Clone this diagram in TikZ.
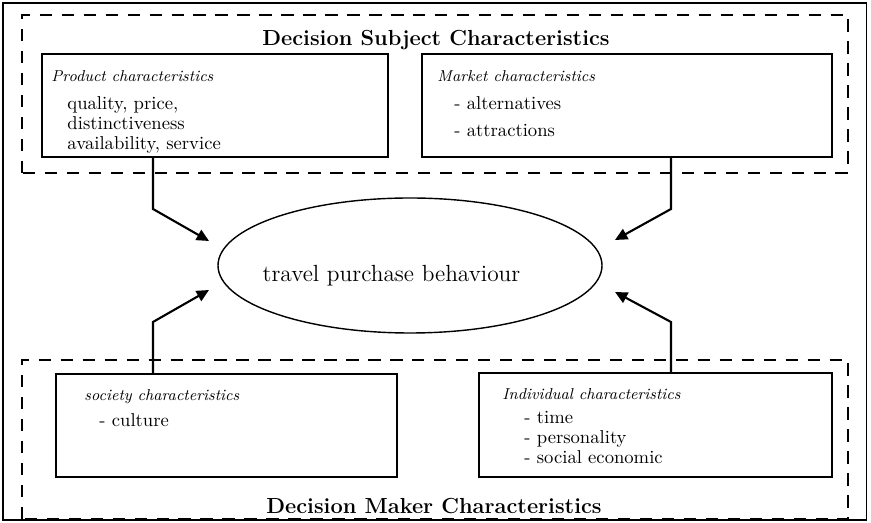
\documentclass[tikz,border=0pt]{standalone}
\usepackage{tikz}
\usetikzlibrary{arrows.meta,positioning,shapes.geometric}
\newcommand{\hdtext}[1]{{\fontsize{9}{11.4}\selectfont\itshape #1}}

\begin{document}
\begin{tikzpicture}[
    box/.style={draw, line width=1pt, inner sep=0pt, minimum height=2.06cm},
    grp/.style={draw, line width=1.2pt, dash pattern=on 7pt off 5.5pt},
    txt/.style={inner sep=0pt, align=left, font=\fontsize{10.6}{11.4}\selectfont},
    ttl/.style={inner sep=0pt, font=\fontsize{12.4}{14}\selectfont\bfseries},
    arr/.style={-{Triangle[length=7pt,width=6.5pt]}, line width=1.2pt}
]
\useasboundingbox (0,0) rectangle (17.42,10.46);

%% ---- outer frame and groups ----
\draw[line width=0.6pt] (0.06,0.06) rectangle (17.33,10.40);
\draw[grp] (0.44,7.00) rectangle (16.96,10.16);
\draw[grp] (0.44,0.08) rectangle (16.96,3.26);

\node[ttl, anchor=base] (subj) at (8.72,9.54) {Decision Subject Characteristics};
\node[ttl, anchor=base] (maker) at (8.68,0.18) {Decision Maker Characteristics};

%% ---- subject side (top row) ----
\node[box, minimum width=6.92cm] (prod) at (4.30,8.35) {};
\node[box, minimum width=8.20cm] (mkt)  at (12.54,8.35) {};
\node[txt, below right=0.34cm and 0.2cm of prod.north west] (prodtxt)
    {\hdtext{Product characteristics}\\[4.5pt]
     \hspace*{0.32cm}quality, price,\\
     \hspace*{0.32cm}distinctiveness\\
     \hspace*{0.32cm}availability, service};
\node[txt, below right=0.34cm and 0.32cm of mkt.north west] (mkttxt)
    {\hdtext{Market characteristics}\\[4.5pt]
     \hspace*{0.34cm}- alternatives\\[4pt]
     \hspace*{0.34cm}- attractions};

%% ---- maker side (bottom row) ----
\node[box, minimum width=6.82cm] (soc) at (4.53,1.95) {};
\node[box, minimum width=7.06cm, minimum height=2.08cm] (ind) at (13.11,1.96) {};
\node[txt, below right=0.32cm and 0.58cm of soc.north west] (soctxt)
    {\hdtext{society characteristics}\\[3.4pt]
     \hspace*{0.30cm}- culture};
\node[txt, below right=0.32cm and 0.48cm of ind.north west] (indtxt)
    {\hdtext{Individual characteristics}\\[2.3pt]
     \hspace*{0.44cm}- time\\
     \hspace*{0.44cm}- personality\\
     \hspace*{0.44cm}- social economic};

%% ---- centre ----
\node[draw, ellipse, line width=0.8pt, inner sep=0pt,
      minimum width=7.68cm, minimum height=2.70cm] (tpb) at (8.20,5.15) {};
\node[inner sep=0pt, anchor=base, font=\fontsize{13.3}{15}\selectfont]
    (tpbtxt) at (7.83,4.82) {travel purchase behaviour};

%% ---- arrows ----
\coordinate (bendPS) at (3.06,6.28);   \coordinate (inPS) at (4.18,5.64);
\coordinate (bendMS) at (13.42,6.28);  \coordinate (inMS) at (12.30,5.66);
\coordinate (bendSC) at (3.06,4.02);   \coordinate (inSC) at (4.18,4.66);
\coordinate (bendIC) at (13.42,4.02);  \coordinate (inIC) at (12.30,4.62);

\draw[arr] (prod.south -| bendPS) -- (bendPS) -- (inPS);
\draw[arr] (mkt.south -| bendMS)  -- (bendMS) -- (inMS);
\draw[arr] (soc.north -| bendSC)  -- (bendSC) -- (inSC);
\draw[arr] (ind.north -| bendIC)  -- (bendIC) -- (inIC);

\end{tikzpicture}
\end{document}
